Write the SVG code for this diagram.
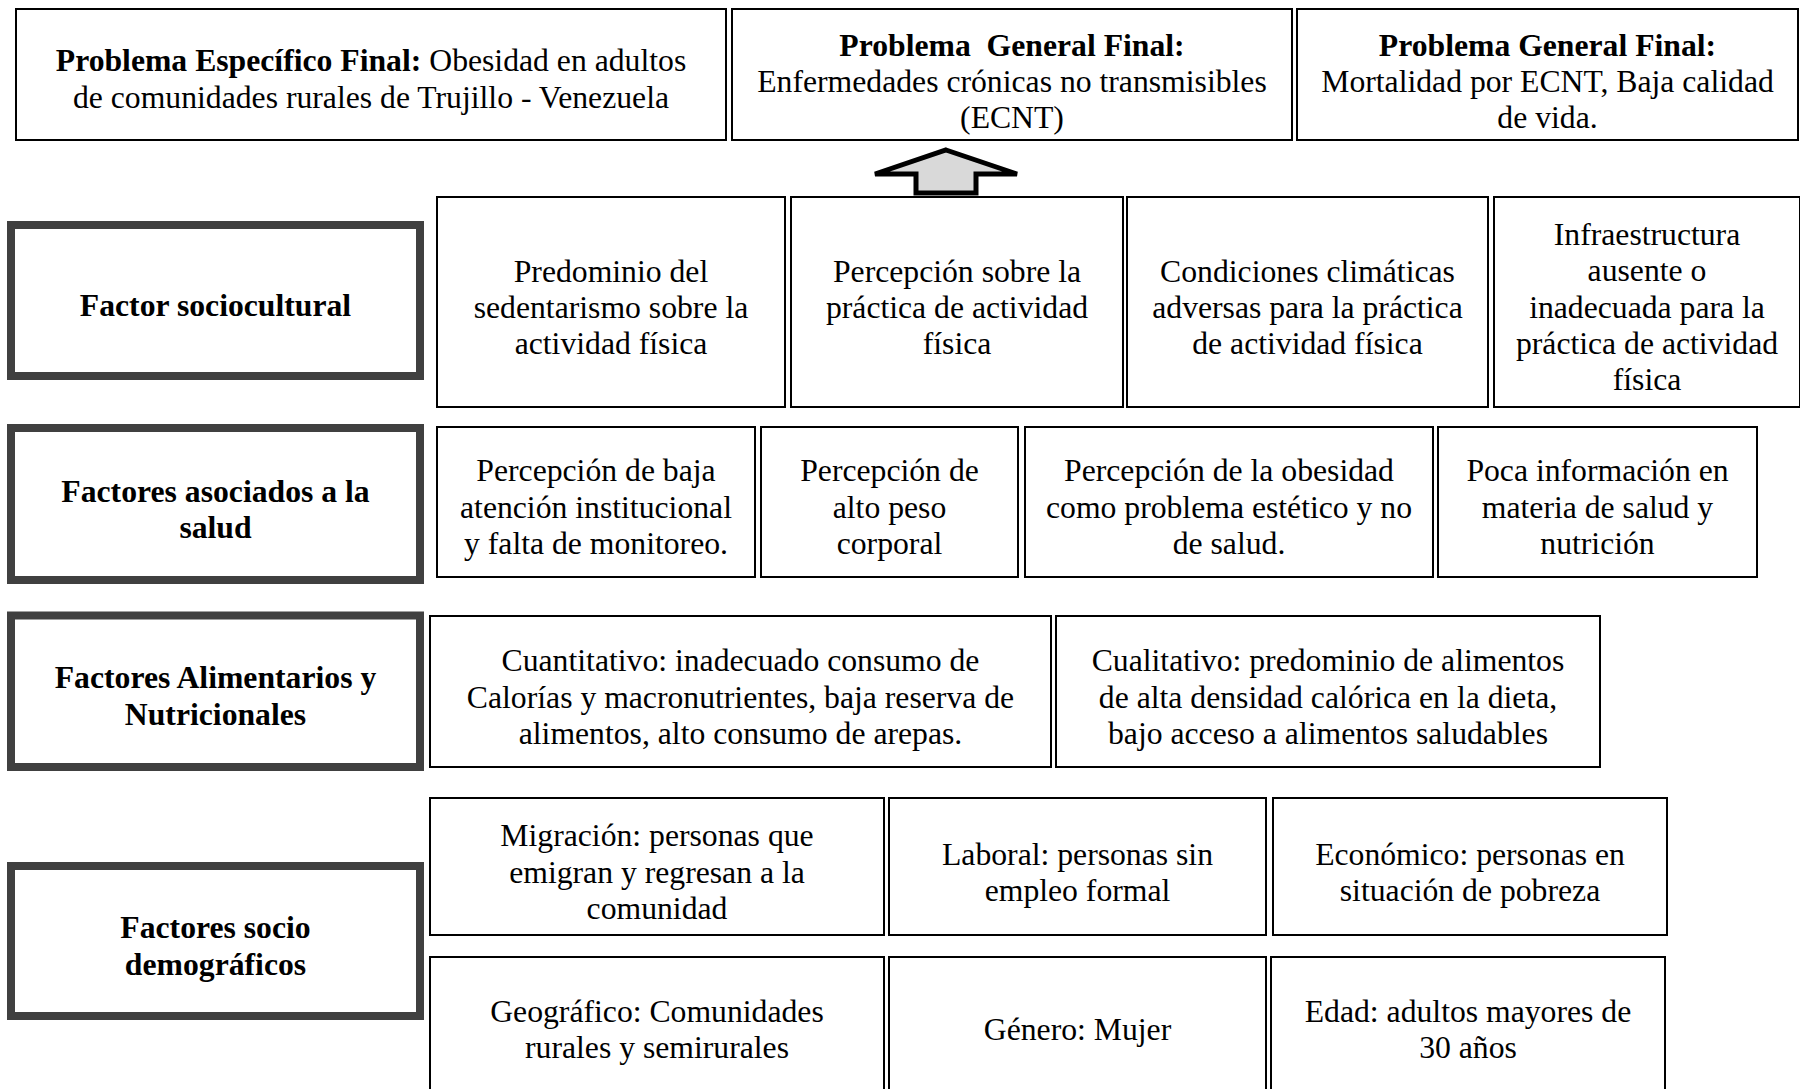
<svg xmlns="http://www.w3.org/2000/svg" width="1800" height="1089" viewBox="0 0 1800 1089">
<style>
  .bx { fill: #ffffff; stroke: #000000; stroke-width: 2; }
  .lb { fill: #ffffff; stroke: #404040; stroke-width: 8; }
  .t { font-family: "Liberation Serif", "Times New Roman", serif; font-size: 31.7px; fill: #000000; text-anchor: middle; }
  .b { font-weight: bold; }
</style>
<rect width="1800" height="1089" fill="#ffffff"/>

<g id="connectors">
  <polygon points="946,150 1017,174 976,174 976,193 916,193 916,174 875,174" fill="#d9d9d9" stroke="#000000" stroke-width="5" stroke-linejoin="miter"/>
</g>

<!-- Top row -->
<g id="problema-especifico">
  <rect class="bx" x="16" y="9" width="710" height="131"/>
  <text class="t" x="371" y="71"><tspan class="b">Problema Específico Final:</tspan> Obesidad en adultos</text>
  <text class="t" x="371" y="107.5">de comunidades rurales de Trujillo - Venezuela</text>
</g>
<g id="problema-general-1">
  <rect class="bx" x="732" y="9" width="560" height="131"/>
  <text class="t b" x="1012" y="56" xml:space="preserve">Problema  General Final:</text>
  <text class="t" x="1012" y="92">Enfermedades crónicas no transmisibles</text>
  <text class="t" x="1012" y="128">(ECNT)</text>
</g>
<g id="problema-general-2">
  <rect class="bx" x="1297" y="9" width="501" height="131"/>
  <text class="t b" x="1547.5" y="56">Problema General Final:</text>
  <text class="t" x="1547.5" y="92">Mortalidad por ECNT, Baja calidad</text>
  <text class="t" x="1547.5" y="128">de vida.</text>
</g>

<!-- Row 1 -->
<g id="factor-sociocultural">
  <rect class="lb" x="11" y="225" width="409" height="151"/>
  <text class="t b" x="215.5" y="316">Factor sociocultural</text>
</g>
<g id="sc-1">
  <rect class="bx" x="437" y="197" width="348" height="210"/>
  <text class="t" x="611" y="281.5">Predominio del</text>
  <text class="t" x="611" y="317.5">sedentarismo sobre la</text>
  <text class="t" x="611" y="353.5">actividad física</text>
</g>
<g id="sc-2">
  <rect class="bx" x="791" y="197" width="332" height="210"/>
  <text class="t" x="957" y="281.5">Percepción sobre la</text>
  <text class="t" x="957" y="317.5">práctica de actividad</text>
  <text class="t" x="957" y="353.5">física</text>
</g>
<g id="sc-3">
  <rect class="bx" x="1127" y="197" width="361" height="210"/>
  <text class="t" x="1307.5" y="281.5">Condiciones climáticas</text>
  <text class="t" x="1307.5" y="317.5">adversas para la práctica</text>
  <text class="t" x="1307.5" y="353.5">de actividad física</text>
</g>
<g id="sc-4">
  <rect class="bx" x="1494" y="197" width="306" height="210"/>
  <text class="t" x="1647" y="244.5">Infraestructura</text>
  <text class="t" x="1647" y="281">ausente o</text>
  <text class="t" x="1647" y="317.5">inadecuada para la</text>
  <text class="t" x="1647" y="354">práctica de actividad</text>
  <text class="t" x="1647" y="390">física</text>
</g>

<!-- Row 2 -->
<g id="factores-salud">
  <rect class="lb" x="11" y="428" width="409" height="152"/>
  <text class="t b" x="215.5" y="501.5">Factores asociados a la</text>
  <text class="t b" x="215.5" y="538">salud</text>
</g>
<g id="sa-1">
  <rect class="bx" x="437" y="427" width="318" height="150"/>
  <text class="t" x="596" y="481">Percepción de baja</text>
  <text class="t" x="596" y="517.5">atención institucional</text>
  <text class="t" x="596" y="554">y falta de monitoreo.</text>
</g>
<g id="sa-2">
  <rect class="bx" x="761" y="427" width="257" height="150"/>
  <text class="t" x="889.5" y="481">Percepción de</text>
  <text class="t" x="889.5" y="517.5">alto peso</text>
  <text class="t" x="889.5" y="554">corporal</text>
</g>
<g id="sa-3">
  <rect class="bx" x="1025" y="427" width="408" height="150"/>
  <text class="t" x="1229" y="481">Percepción de la obesidad</text>
  <text class="t" x="1229" y="517.5">como problema estético y no</text>
  <text class="t" x="1229" y="554">de salud.</text>
</g>
<g id="sa-4">
  <rect class="bx" x="1438" y="427" width="319" height="150"/>
  <text class="t" x="1597.5" y="481">Poca información en</text>
  <text class="t" x="1597.5" y="517.5">materia de salud y</text>
  <text class="t" x="1597.5" y="554">nutrición</text>
</g>

<!-- Row 3 -->
<g id="factores-alimentarios">
  <rect class="lb" x="11" y="615.5" width="409" height="151.5"/>
  <text class="t b" x="215.5" y="688">Factores Alimentarios y</text>
  <text class="t b" x="215.5" y="725">Nutricionales</text>
</g>
<g id="al-1">
  <rect class="bx" x="430" y="616" width="621" height="151"/>
  <text class="t" x="740.5" y="671">Cuantitativo: inadecuado consumo de</text>
  <text class="t" x="740.5" y="707.5">Calorías y macronutrientes, baja reserva de</text>
  <text class="t" x="740.5" y="744">alimentos, alto consumo de arepas.</text>
</g>
<g id="al-2">
  <rect class="bx" x="1056" y="616" width="544" height="151"/>
  <text class="t" x="1328" y="671">Cualitativo: predominio de alimentos</text>
  <text class="t" x="1328" y="707.5">de alta densidad calórica en la dieta,</text>
  <text class="t" x="1328" y="744">bajo acceso a alimentos saludables</text>
</g>

<!-- Row 4 -->
<g id="factores-sociodemograficos">
  <rect class="lb" x="11" y="866" width="409" height="150"/>
  <text class="t b" x="215.5" y="938">Factores socio</text>
  <text class="t b" x="215.5" y="974.5">demográficos</text>
</g>
<g id="sd-migracion">
  <rect class="bx" x="430" y="798" width="454" height="137"/>
  <text class="t" x="657" y="846">Migración: personas que</text>
  <text class="t" x="657" y="882.5">emigran y regresan a la</text>
  <text class="t" x="657" y="919">comunidad</text>
</g>
<g id="sd-laboral">
  <rect class="bx" x="889" y="798" width="377" height="137"/>
  <text class="t" x="1077.5" y="865">Laboral: personas sin</text>
  <text class="t" x="1077.5" y="901">empleo formal</text>
</g>
<g id="sd-economico">
  <rect class="bx" x="1273" y="798" width="394" height="137"/>
  <text class="t" x="1470" y="865">Económico: personas en</text>
  <text class="t" x="1470" y="901">situación de pobreza</text>
</g>
<g id="sd-geografico">
  <rect class="bx" x="430" y="957" width="454" height="137"/>
  <text class="t" x="657" y="1022">Geográfico: Comunidades</text>
  <text class="t" x="657" y="1058">rurales y semirurales</text>
</g>
<g id="sd-genero">
  <rect class="bx" x="889" y="957" width="377" height="137"/>
  <text class="t" x="1077.5" y="1040">Género: Mujer</text>
</g>
<g id="sd-edad">
  <rect class="bx" x="1271" y="957" width="394" height="137"/>
  <text class="t" x="1468" y="1022">Edad: adultos mayores de</text>
  <text class="t" x="1468" y="1058">30 años</text>
</g>
</svg>
